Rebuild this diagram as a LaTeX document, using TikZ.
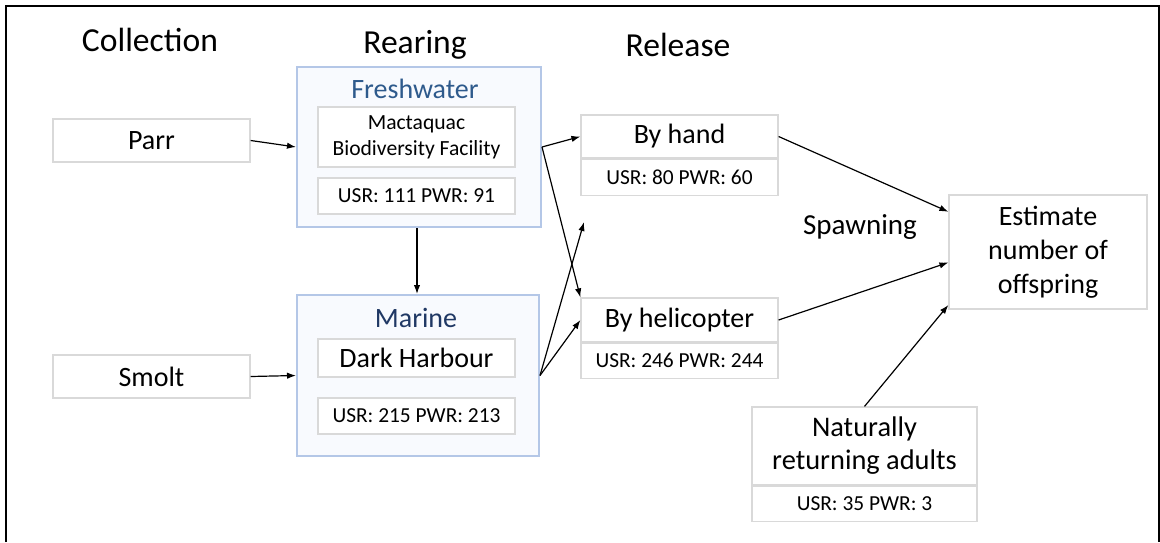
\documentclass[tikz,border=0pt]{standalone}
\usepackage{fontspec}
\setmainfont{Carlito}
\usetikzlibrary{positioning,arrows.meta}

\definecolor{boxgray}{HTML}{D9D9D9}
\definecolor{rearblue}{HTML}{B4C7E7}
\definecolor{rearfill}{HTML}{F8FAFE}
\definecolor{freshtext}{HTML}{2E5A8C}
\definecolor{marinetext}{HTML}{203864}

\begin{document}
\begin{tikzpicture}[x=0.5pt,y=-0.5pt,
    box/.style={draw=boxgray, line width=0.6pt, fill=white, align=center, inner sep=0pt,
      minimum width=98.5pt, font=\fontsize{14}{17}\selectfont},
    usr/.style={box, minimum height=18pt, font=\fontsize{10.7}{12}\selectfont},
    rear/.style={draw=rearblue, line width=1pt, fill=rearfill, inner sep=0pt,
      minimum width=122pt, minimum height=80pt},
    head/.style={font=\fontsize{16.8}{20}\selectfont},
    link/.style={-{Latex[length=4.5pt,width=3.2pt]}, line width=0.6pt}]
        \useasboundingbox (0,0) rectangle (1160,542);
        \draw[line width=1pt] (6,542) -- (6,6) -- (1159,6) -- (1159,542);

        % column titles
        \node[head] (collection) at (150,40) {Collection};
        \node[head] (rearing) at (415,45) {Rearing};
        \node[head] (release) at (678,45) {Release};
        \node[font=\fontsize{14.5}{16}\selectfont] (spawning) at (860,227) {Spawning};

        % collection
        \node[box, minimum height=21.5pt] (parr) at (151.5,140.5) {Parr};
        \node[box, minimum height=21.5pt] (smolt) at (151.5,376.5) {Smolt};

        % rearing
        \node[rear] (fresh) at (419,147) {};
        \node[font=\fontsize{14}{16}\selectfont, text=freshtext] (freshname) at (415,89) {Freshwater};
        \node[box, minimum height=30pt, font=\fontsize{10.8}{13}\selectfont] (mactaquac) at (416.5,137) {Mactaquac\\Biodiversity Facility};
        \node[usr] (freshusr) at (416.5,196) {USR: 111 PWR: 91};

        \node[rear, minimum width=121pt, minimum height=80.5pt] (marine) at (418,375.5) {};
        \node[font=\fontsize{14}{16}\selectfont, text=marinetext] (marinename) at (416,318) {Marine};
        \node[box, minimum height=19pt] (dark) at (416.5,358) {Dark Harbour};
        \node[usr] (marineusr) at (416.5,416) {USR: 215 PWR: 213};

        % release
        \node[box, minimum height=21.5pt] (hand) at (679.5,136.5) {By hand};
        \node[usr, below=0pt of hand] (handusr) {USR: 80 PWR: 60};
        \node[box, minimum height=22pt] (heli) at (679.5,320) {By helicopter};
        \node[usr, minimum height=17.5pt, below=0pt of heli] (heliusr) {USR: 246 PWR: 244};

        % spawning
        \node[box, minimum width=99pt, minimum height=57pt] (estimate) at (1048,252) {Estimate\\number of\\offspring};
        \node[box, minimum width=112.5pt, minimum height=39pt, font=\fontsize{14.2}{16.5}\selectfont] (natural) at (864.5,446) {Naturally\\returning adults};
        \node[usr, minimum width=112.5pt, minimum height=17.5pt, below=0pt of natural] (naturalusr) {USR: 35 PWR: 3};

        \coordinate (loose) at (584,222);

        \draw[link] (parr.east) -- (fresh.west);
        \draw[link] (smolt.east) -- (marine.west);
        \draw[link] (fresh.south -| 417,0) -- (marine.north -| 417,0);

        \draw[link] (fresh.east) -- (hand.west);
        \draw[link] (fresh.east) -- (heli.north west);
        \draw[link] (marine.east) -- (heli.west);
        \draw[link] (marine.east) -- (loose);

        \draw[link] (hand.east) -- (estimate.158);
        \draw[link] (heli.east) -- (estimate.186);
        \draw[link] (natural.north) -- (estimate.208);
\end{tikzpicture}
\end{document}
